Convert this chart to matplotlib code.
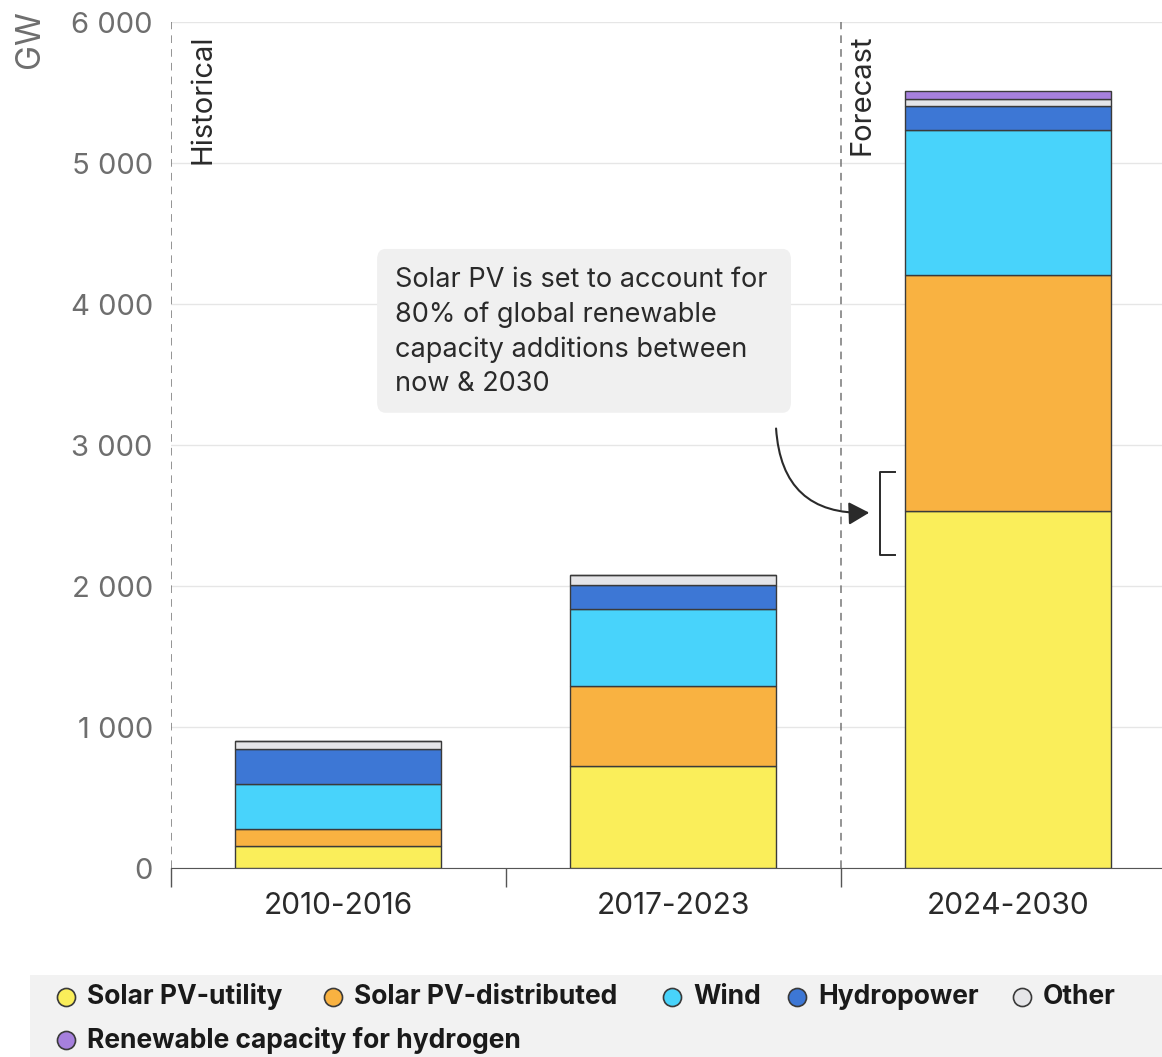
import numpy as np
import matplotlib.pyplot as plt
from matplotlib.patches import FancyBboxPatch, FancyArrowPatch

plt.rcParams['font.family'] = ['Inter', 'DejaVu Sans']

periods = ['2010-2016', '2017-2023', '2024-2030']
series = ['Solar PV-utility', 'Solar PV-distributed', 'Wind', 'Hydropower', 'Other',
          'Renewable capacity for hydrogen']
solar_utility = [156, 722, 2535]
solar_distributed = [118, 572, 1672]
wind = [319, 540, 1027]
hydropower = [252, 170, 170]
other = [56, 71, 54]
hydrogen = [0, 0, 52]
colors = ['#faee5a', '#f9b241', '#48d3fb', '#3d77d5', '#e5e5e8', '#a680dd']

yticks = [0, 1000, 2000, 3000, 4000, 5000, 6000]
note = ('Solar PV is set to account for\n80% of global renewable\n'
        'capacity additions between\nnow & 2030')

fig = plt.figure(figsize=(11.62, 10.57), dpi=100)
ax = fig.add_axes([0.147, 0.1788, 0.853, 0.8003])

x = np.arange(len(periods))
bottom = np.zeros(len(periods))
for vals, col in zip([solar_utility, solar_distributed, wind, hydropower, other, hydrogen], colors):
    vals = np.array(vals, dtype=float)
    ax.bar(x, vals, 0.615, bottom=bottom, color=col, edgecolor='#3a3a3a', linewidth=1.0, zorder=3)
    bottom += vals

ax.set_xlim(-0.5, 2.46)
ax.set_ylim(0, 6000)
ax.set_yticks(yticks)
ax.set_yticklabels([f'{v:,}'.replace(',', ' ') for v in yticks], fontsize=21, color='#6e6e6e')
ax.set_xticks(x)
ax.set_xticklabels(periods, fontsize=21.5, color='#2a2a2a')
ax.set_xticks([-0.5, 0.5, 1.5], minor=True)
ax.tick_params(axis='y', length=0, pad=13)
ax.tick_params(axis='x', which='major', length=0, pad=17)
ax.tick_params(axis='x', which='minor', length=14, width=1, color='#555555')
ax.grid(axis='y', color='#e6e6e6', linewidth=1, zorder=0)
for s in ['left', 'right', 'top']:
    ax.spines[s].set_visible(False)
ax.spines['bottom'].set_color('#555555')

# period separators
for xv in [-0.5, 1.5]:
    ax.axvline(xv, color='#777777', linestyle=(0, (5, 4)), linewidth=1.1, zorder=2)
ax.text(-0.445, 5910, 'Historical', rotation=90, ha='left', va='top', fontsize=21, color='#2a2a2a')
ax.text(1.525, 5910, 'Forecast', rotation=90, ha='left', va='top', fontsize=21, color='#2a2a2a')

ax.text(-0.142, 1.014, 'GW', rotation=90, transform=ax.transAxes, ha='center', va='top',
        fontsize=24, color='#6e6e6e')

# annotation box, arrow and bracket
box = FancyBboxPatch((0.116, 3229), 1.236, 1162, boxstyle='round,pad=0,rounding_size=0.025',
                     mutation_aspect=3000, facecolor='#f0f0f0', edgecolor='none', zorder=4)
ax.add_patch(box)
ax.text(0.17, 4265, note, ha='left', va='top', fontsize=19.5, color='#2a2a2a',
        linespacing=1.42, zorder=5)
arrow = FancyArrowPatch((1.307, 3137), (1.594, 2521), connectionstyle='arc3,rad=0.5',
                        arrowstyle='-|>,head_length=0.9,head_width=0.5', color='#2a2a2a',
                        linewidth=1.5, mutation_scale=14, zorder=5)
ax.add_patch(arrow)
ax.plot([1.663, 1.618, 1.618, 1.663], [2812, 2812, 2217, 2217], color='#2a2a2a', linewidth=1.4, zorder=5)

# legend
fig.patches.append(plt.Rectangle((0.026, 0.0), 0.974, 0.078, transform=fig.transFigure,
                                 facecolor='#f2f2f2', edgecolor='none', zorder=0))
legend_pos = [(66, 997), (333, 997), (672, 997), (797, 997), (1022, 997), (66, 1040)]
for name, col, (px, py) in zip(series, colors, legend_pos):
    fx, fy = px / 1162, 1 - py / 1057
    fig.add_artist(plt.Line2D([fx], [fy], marker='o', markersize=13, markerfacecolor=col,
                              markeredgecolor='#3a3a3a', markeredgewidth=1.2, linestyle='none'))
    fig.text(fx + 21 / 1162, fy, name, ha='left', va='center', fontsize=19, fontweight='bold',
             color='#1a1a1a')

fig.savefig('out.png', dpi=100)
